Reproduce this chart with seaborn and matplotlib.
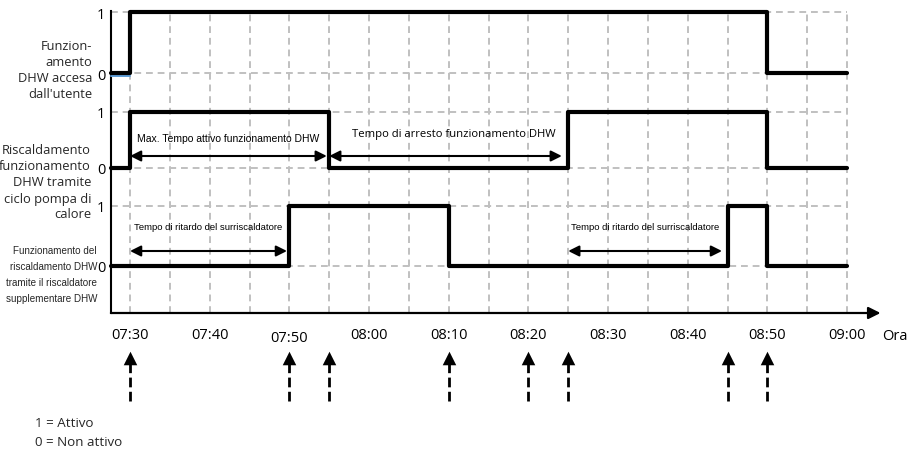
import matplotlib
matplotlib.use("Agg")
import matplotlib.pyplot as plt
from matplotlib import transforms
import seaborn as sns

# time axis (minutes after 07:30)
TICK_MIN = [0, 10, 20, 30, 40, 50, 60, 70, 80, 90]
TICK_LABELS = ["07:30", "07:40", "07:50", "08:00", "08:10",
               "08:20", "08:30", "08:40", "08:50", "09:00"]
GRID_MIN = [0, 5, 10, 15, 20, 25, 30, 35, 40, 45, 50, 55, 60, 65, 70, 75, 80, 85, 90]

# signals, step-post: time of change and state from that time on
USER_T = [-2.4, 0, 80, 90]
USER_V = [0, 1, 0, 0]
HP_T = [-2.4, 0, 25, 55, 80, 90]
HP_V = [0, 1, 0, 1, 0, 0]
BOOST_T = [-2.4, 20, 40, 75, 80, 90]
BOOST_V = [0, 1, 0, 1, 0, 0]

# times marked with the arrows under the axis
EVENT_MIN = [0, 20, 25, 40, 50, 55, 75, 80]

ROW_LABELS = [
    "Funzion-\namento\nDHW accesa\ndall'utente",
    "Riscaldamento\nfunzionamento\nDHW tramite\nciclo pompa di\ncalore",
    "Funzionamento del\nriscaldamento DHW\ntramite il riscaldatore\nsupplementare DHW",
]
SPAN_START = [0, 25, 0, 55]
SPAN_END = [24.7, 54.2, 19.7, 74.3]
SPAN_TEXT = ["Max. Tempo attivo funzionamento DHW",
             "Tempo di arresto funzionamento DHW",
             "Tempo di ritardo del surriscaldatore",
             "Tempo di ritardo del surriscaldatore"]
LEGEND_TEXT = ["1 = Attivo", "0 = Non attivo"]

# layout (units ~ pixels above the time axis)
ROW_BASE = [240, 145, 47]
ROW_HIGH = [301, 201, 107]
SPAN_Y = [157, 157, 62, 62]
SPAN_TXT_Y = [175, 179, 86, 86]
SPAN_TXT_DX = [0, 1.0, 0, 0]
SPAN_TXT_SIZE = [7.5, 8.1, 6.8, 6.8]
AXIS_X0 = -2.4

sns.set_theme(style="white")
plt.rcParams["font.family"] = ["Open Sans", "DejaVu Sans"]
NARROW = ["Liberation Sans", "DejaVu Sans"]

fig = plt.figure(figsize=(9.08, 4.52), dpi=100)
ax = fig.add_axes([0, 0, 1, 1])
ax.set_facecolor("white")

grid_kw = dict(color="#c0c0c0", lw=1.4, linestyle=(0, (3.5, 2.5)), zorder=1)
for b, h in zip(ROW_BASE, ROW_HIGH):
    ax.hlines([b, h], AXIS_X0, 90, **grid_kw)
ax.vlines(GRID_MIN, 0, ROW_HIGH[0], **grid_kw)

# signals
signals = [(USER_T, USER_V), (HP_T, HP_V), (BOOST_T, BOOST_V)]
for i, (t, v) in enumerate(signals):
    y = [ROW_BASE[i] + s * (ROW_HIGH[i] - ROW_BASE[i]) for s in v]
    sns.lineplot(x=t, y=y, ax=ax, drawstyle="steps-post", color="black",
                 lw=3, zorder=4, sort=False)
# small blue trace under the first low level
ax.plot([AXIS_X0, 0], [ROW_BASE[0] - 2.5] * 2, color="#5b9bd5", lw=1.4, zorder=3)

# span annotations
for t0, t1, y, ty, dx, fs, txt in zip(SPAN_START, SPAN_END, SPAN_Y, SPAN_TXT_Y,
                                      SPAN_TXT_DX, SPAN_TXT_SIZE, SPAN_TEXT):
    ax.annotate("", xy=(t1, y), xytext=(t0, y),
                arrowprops=dict(arrowstyle="<|-|>", color="black", lw=1.5,
                                mutation_scale=16, shrinkA=0, shrinkB=0), zorder=5)
    fam = ["Open Sans", "DejaVu Sans"] if "arresto" in txt else NARROW
    ax.text((t0 + t1) / 2 + dx, ty, txt, ha="center", va="center",
            fontsize=fs, family=fam, color="black", zorder=5)

# axes
for s in ["top", "right", "bottom"]:
    ax.spines[s].set_visible(False)
ax.spines["bottom"].set_position(("data", 0))
ax.spines["left"].set_position(("data", AXIS_X0))
ax.spines["left"].set_bounds(0, 302)
ax.spines["left"].set_color("black")
ax.spines["left"].set_linewidth(1.5)
ax.annotate("", xy=(94.2, 0), xytext=(AXIS_X0, 0),
            arrowprops=dict(arrowstyle="-|>", color="black", lw=1.6,
                            mutation_scale=18, shrinkA=0, shrinkB=0), zorder=6)

ax.set_xticks(TICK_MIN, TICK_LABELS)
ax.tick_params(axis="x", length=0, pad=10, labelsize=10.5, colors="black")
lab = ax.get_xticklabels()[2]
lab.set_transform(lab.get_transform() + transforms.ScaledTranslation(0, -3 / 100, fig.dpi_scale_trans))

levels = sorted(ROW_BASE + ROW_HIGH)
ax.set_yticks(levels, ["0", "1", "0", "1", "0", "1"])
ax.tick_params(axis="y", length=0, pad=4, labelsize=10.5, colors="black")
ax.set_xlabel("")
ax.set_ylabel("")
ax.text(94.4, -23, "Ora", ha="left", va="center", fontsize=10.5, color="black")

# event arrows below the axis
ax.vlines(EVENT_MIN, -88, -50, color="black", lw=2, linestyle=(0, (3.5, 1.6)))
sns.scatterplot(x=EVENT_MIN, y=[-44.5] * len(EVENT_MIN), ax=ax, marker="^",
                s=95, color="black", edgecolor="black", linewidth=0, clip_on=False)

ax.set_xlim(-16.32, 97.65)
ax.set_ylim(-138, 314)

# row labels
fig.text(92 / 908, 1 - 71 / 452, ROW_LABELS[0], ha="right", va="center",
         fontsize=9.3, linespacing=1.3)
fig.text(91 / 908, 1 - 183 / 452, ROW_LABELS[1], ha="right", va="center",
         fontsize=9.3, linespacing=1.3)
fig.text(97 / 908, 1 - 275 / 452, ROW_LABELS[2], ha="right", va="center",
         fontsize=7.1, linespacing=1.72, family=NARROW)

fig.text(35 / 908, 1 - 424 / 452, LEGEND_TEXT[0], ha="left", va="center", fontsize=9.6)
fig.text(35 / 908, 1 - 443 / 452, LEGEND_TEXT[1], ha="left", va="center", fontsize=9.6)

fig.savefig("out.png", dpi=100)
